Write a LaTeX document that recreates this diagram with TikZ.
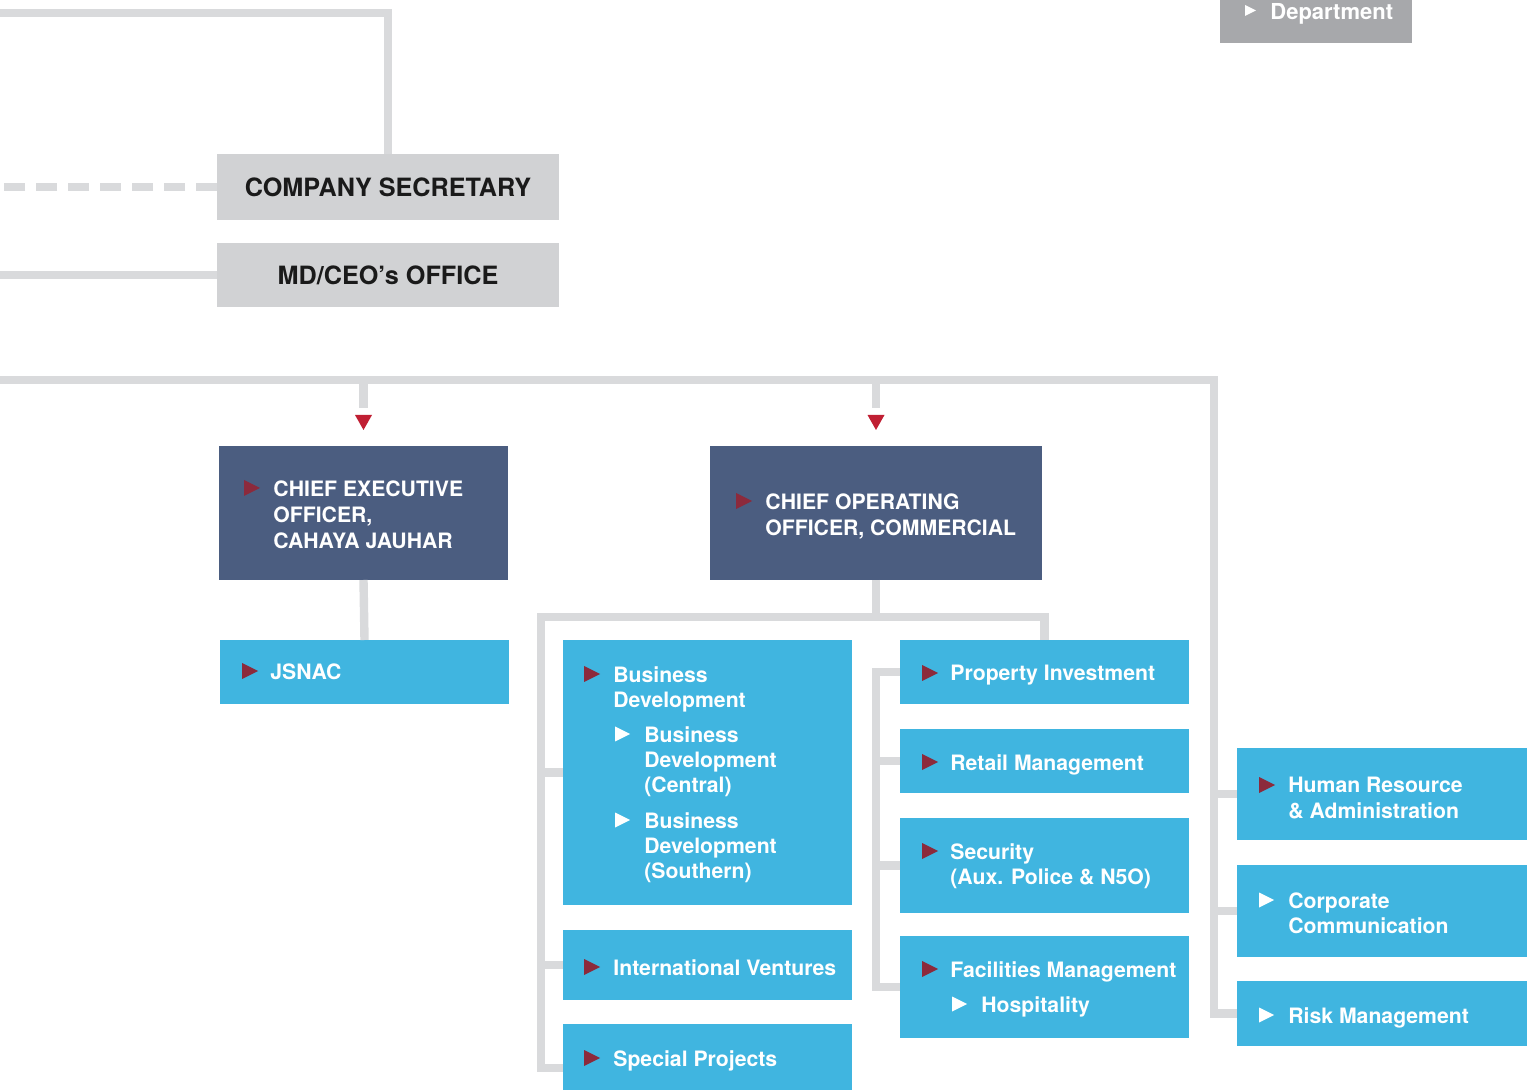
\documentclass[tikz,border=0pt]{standalone}
\usepackage{fontspec}
\setmainfont{TeX Gyre Heros}
\usetikzlibrary{fit}

\definecolor{linegray}{HTML}{D9DADC}
\definecolor{boxgray}{HTML}{D1D2D4}
\definecolor{deptgray}{HTML}{A7A8AB}
\definecolor{inkgray}{HTML}{1A1A1A}
\definecolor{navy}{HTML}{4B5D80}
\definecolor{sky}{HTML}{40B5E0}
\definecolor{tipred}{HTML}{8C2A3C}
\definecolor{arrowred}{HTML}{C01F33}

\begin{document}
\begin{tikzpicture}[x=0.5pt, y=-0.5pt,
    link/.style={line width=4.2pt, linegray},
    unitbox/.style={inner sep=0pt, outer sep=0pt},
    bluebox/.style={unitbox, fill=sky},
    navybox/.style={unitbox, fill=navy},
    graybox/.style={unitbox, fill=boxgray},
    txt/.style={anchor=north west, inner sep=0pt, align=left, text=white,
        font=\fontsize{10.6}{12.7}\selectfont\bfseries},
    headtxt/.style={txt, font=\fontsize{10.6}{13.2}\selectfont\bfseries},
    graytxt/.style={inner sep=0pt, text=inkgray, font=\fontsize{12.6}{14}\selectfont\bfseries},
    pics/redtip/.style={code={\fill[tipred] (0,-8) -- (16,0) -- (0,8) -- cycle;}},
    pics/whitetip/.style={code={\fill[white] (0,-7.5) -- (15,0) -- (0,7.5) -- cycle;}},
]
    % org chart, pixel grid with y pointing down
    \useasboundingbox (0,0) rectangle (1532,1090);
    \coordinate (edge) at (0,0);
    \coordinate (topL) at (0,13);
    \coordinate (busL) at (0,380);
    \coordinate (busR) at (1214,380);
    \coordinate (brL) at (541,617);

    % legend
    \node[unitbox, fill=deptgray, fit={(1220,-40) (1412,43)}] (dept) {};
    \fill[white] (1245,5) -- (1256,10.5) -- (1245,16) -- cycle;
    \node[txt, font=\fontsize{11}{13}\selectfont\bfseries] at (1270,3) {Department};

    % offices
    \node[graybox, fit={(217,154) (559,220)}] (cosec) {};
    \node[graytxt] at (cosec.center) {COMPANY SECRETARY};
    \node[graybox, fit={(217,243) (559,307)}] (mdceo) {};
    \node[graytxt] at (mdceo.center) {MD/CEO’s OFFICE};

    % chiefs
    \node[navybox, fit={(219,446) (508,580)}] (ceo) {};
    \pic at (244,488) {redtip};
    \node[headtxt] at (273,480) {CHIEF EXECUTIVE\\OFFICER,\\CAHAYA JAUHAR};
    \node[navybox, fit={(710,446) (1042,580)}] (coo) {};
    \pic at (736,501) {redtip};
    \node[headtxt] at (765,493) {CHIEF OPERATING\\OFFICER, COMMERCIAL};

    \node[bluebox, fit={(220,640) (509,704)}] (jsnac) {};
    \pic at (242,671) {redtip};
    \node[txt] at (270,663) {JSNAC};

    % first column
    \node[bluebox, fit={(563,640) (852,905)}] (bd) {};
    \pic at (584,674) {redtip};
    \node[txt] at (613,666) {Business\\Development};
    \pic at (615,734) {whitetip};
    \node[txt] at (644,726) {Business\\Development\\(Central)};
    \pic at (615,820) {whitetip};
    \node[txt] at (644,812) {Business\\Development\\(Southern)};
    \node[bluebox, fit={(563,930) (852,1000)}] (iv) {};
    \pic at (584,967) {redtip};
    \node[txt] at (613,959) {International Ventures};
    \node[bluebox, fit={(563,1024) (852,1112)}] (sp) {};
    \pic at (584,1058) {redtip};
    \node[txt] at (613,1050) {Special Projects};

    % second column
    \node[bluebox, fit={(900,640) (1189,704)}] (pi) {};
    \pic at (922,673) {redtip};
    \node[txt] at (950,665) {Property Investment};
    \node[bluebox, fit={(900,729) (1189,793)}] (rm) {};
    \pic at (922,762) {redtip};
    \node[txt] at (950,754) {Retail Management};
    \node[bluebox, fit={(900,818) (1189,913)}] (sec) {};
    \pic at (922,851) {redtip};
    \node[txt] at (950,843) {Security\\(Aux. Police \& N5O)};
    \node[bluebox, fit={(900,936) (1189,1038)}] (fm) {};
    \pic at (922,969) {redtip};
    \node[txt] at (950,961) {Facilities Management};
    \pic at (952,1004) {whitetip};
    \node[txt] at (981,996) {Hospitality};

    % third column
    \node[bluebox, fit={(1237,748) (1527,840)}] (hr) {};
    \pic at (1259,785) {redtip};
    \node[txt] at (1288,777) {Human Resource\\\& Administration};
    \node[bluebox, fit={(1237,865) (1527,957)}] (cc) {};
    \pic at (1259,900) {whitetip};
    \node[txt] at (1288,892) {Corporate\\Communication};
    \node[bluebox, fit={(1237,981) (1527,1046)}] (rk) {};
    \pic at (1259,1015) {whitetip};
    \node[txt] at (1288,1007) {Risk Management};

    % connectors
    \draw[link] (topL) -| (cosec.north);
    \draw[link, dash pattern=on 10.5pt off 5.5pt] (cosec.west) -- (cosec.west -| edge);
    \draw[link] (mdceo.west) -- (mdceo.west -| edge);

    \draw[link] (busL) -- (busR) -- (busR |- rk.west) -- (rk.west);
    \draw[link] (busR |- hr.west) -- (hr.west);
    \draw[link] (busR |- cc.west) -- (cc.west);

    \draw[link] (ceo.north |- busL) -- ++(0,28);
    \fill[arrowred] (ceo.north) ++(-8.5,-31) -- ++(17,0) -- ++(-8.5,15) -- cycle;
    \draw[link] (coo.north |- busL) -- ++(0,28);
    \fill[arrowred] (coo.north) ++(-8.5,-31) -- ++(17,0) -- ++(-8.5,15) -- cycle;

    \draw[link] (ceo.south) -- (jsnac.north);
    \draw[link] (coo.south) -- (coo.south |- brL);
    \draw[link] (sp.west) -| (brL) -| (pi.north);
    \draw[link] (bd.west) -- (bd.west -| brL);
    \draw[link] (iv.west) -- (iv.west -| brL);

    \draw[link] (pi.west) -- ++(-24,0) coordinate (brR) |- (fm.west);
    \draw[link] (rm.west) -- (rm.west -| brR);
    \draw[link] (sec.west) -- (sec.west -| brR);
\end{tikzpicture}
\end{document}
